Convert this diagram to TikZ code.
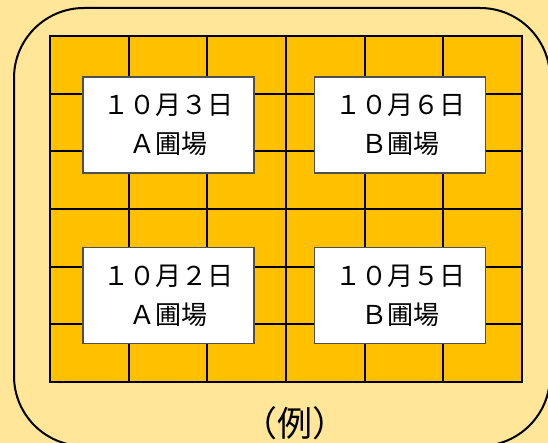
\documentclass[tikz,border=0pt]{standalone}
\usepackage{fontspec}
\setmainfont{Noto Sans CJK JP}
\definecolor{bgyellow}{HTML}{FFE699}
\definecolor{gridfill}{HTML}{FFC000}
\definecolor{boxedge}{HTML}{505050}
\begin{document}
\begin{tikzpicture}[x=1pt,y=-1pt,
  datebox/.style={draw=boxedge, line width=1.2pt, fill=white, minimum width=171pt, minimum height=96pt, inner sep=0pt, align=center, font=\fontsize{26}{39}\selectfont},
  gridline/.style={line width=1.8pt, black},
  outline/.style={line width=2pt, black, rounded corners=70pt}]
\useasboundingbox (0,0) rectangle (548,443);
\fill[bgyellow] (0,0) rectangle (548,443);
\begin{scope}
\clip (0,0) rectangle (548,443);
\draw[outline] (14,8) rectangle (550,446);
\end{scope}
\fill[gridfill] (50,36) rectangle (522,382);
\foreach \i in {1,...,5} {
  \draw[gridline] ({50+\i*472/6},36) -- ({50+\i*472/6},382);
  \draw[gridline] (50,{36+\i*346/6}) -- (522,{36+\i*346/6});
}
\draw[gridline] (50,36) rectangle (522,382);
\node[datebox] (b1) at (168.5,125) {１０月３日\\Ａ圃場};
\node[datebox] (b2) at (400,125) {１０月６日\\Ｂ圃場};
\node[datebox] (b3) at (168.5,295.5) {１０月２日\\Ａ圃場};
\node[datebox] (b4) at (400,295.5) {１０月５日\\Ｂ圃場};
\node[font=\fontsize{35}{40}\selectfont, inner sep=0pt] (ex) at (295,423) {（例）};
\end{tikzpicture}
\end{document}
